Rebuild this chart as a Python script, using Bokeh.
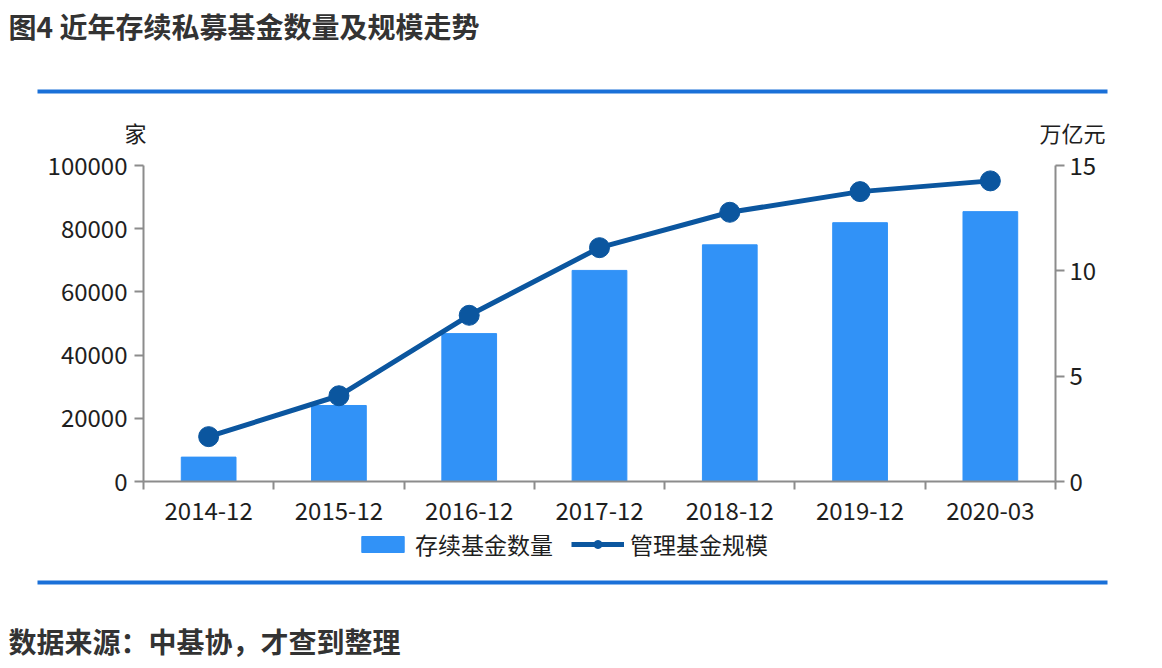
from bokeh.plotting import figure
from bokeh.layouts import column
from bokeh.models import (Range1d, LinearAxis, FixedTicker, NumeralTickFormatter,
                          Legend, LegendItem, Label, BoxAnnotation)
from bokeh.embed import file_html
from bokeh.resources import INLINE

categories = ["2014-12", "2015-12", "2016-12", "2017-12", "2018-12", "2019-12", "2020-03"]
fund_count = [7714, 24054, 46800, 66800, 74900, 81900, 85400]
fund_scale = [2.13, 4.07, 7.89, 11.10, 12.78, 13.76, 14.27]
left_ticks = [0, 20000, 40000, 60000, 80000, 100000]
right_ticks = [0, 5, 10, 15]
series_names = ["存续基金数量", "管理基金规模"]
title_text = "图4 近年存续私募基金数量及规模走势"
source_text = "数据来源：中基协，才查到整理"
left_unit = "家"
right_unit = "万亿元"

FONT = "Noto Sans CJK SC"
BAR_COLOR = "#3192f7"
LINE_COLOR = "#0b569f"
AXIS_COLOR = "#8c8c8c"
TEXT_COLOR = "#1e1e1e"
HEAD_COLOR = "#333333"
RULE_COLOR = "#1a70d8"
W = 1162
xs = [i + 0.5 for i in range(len(categories))]


def blank_fig(h):
    f = figure(width=W, height=h, output_backend="svg", toolbar_location=None,
               x_range=Range1d(0, len(categories)), y_range=Range1d(0, 100000),
               x_axis_type=None, y_axis_type=None, frame_align=False,
               min_border_left=0, min_border_right=0, min_border_top=0, min_border_bottom=0)
    f.outline_line_color = None
    f.xgrid.visible = False
    f.ygrid.visible = False
    return f


# ---------- header ----------
HEAD_H = 148
head = blank_fig(HEAD_H)
head.add_layout(Label(x=8, y=HEAD_H - 25, x_units="screen", y_units="screen", text=title_text,
                      text_font=FONT, text_font_size="28px", text_font_style="bold",
                      text_color=HEAD_COLOR, text_baseline="middle"))
head.add_layout(BoxAnnotation(left=37, right=1107, top=HEAD_H - 89, bottom=HEAD_H - 93,
                              left_units="screen", right_units="screen",
                              top_units="screen", bottom_units="screen",
                              fill_color=RULE_COLOR, fill_alpha=1, line_color=None))
head.add_layout(Label(x=135, y=HEAD_H - 131, x_units="screen", y_units="screen", text=left_unit,
                      text_font=FONT, text_font_size="22px", text_color=TEXT_COLOR,
                      text_baseline="middle", text_align="center"))
head.add_layout(Label(x=1072, y=HEAD_H - 131, x_units="screen", y_units="screen", text=right_unit,
                      text_font=FONT, text_font_size="22px", text_color=TEXT_COLOR,
                      text_baseline="middle", text_align="center"))

# ---------- main chart ----------
p = figure(frame_width=912, frame_height=316, output_backend="svg", toolbar_location=None,
           x_range=Range1d(0, len(categories)), y_range=Range1d(0, 100000), frame_align=False,
           min_border_left=143, min_border_right=107, min_border_top=17, min_border_bottom=46)
p.extra_y_ranges = {"y2": Range1d(0, 15)}
p.outline_line_color = None
p.xgrid.visible = False
p.ygrid.visible = False

bars = p.vbar(x=xs, top=fund_count, width=0.42, color=BAR_COLOR)
line = p.line(x=xs, y=fund_scale, y_range_name="y2", line_color=LINE_COLOR, line_width=5)
dots = p.scatter(x=xs, y=fund_scale, y_range_name="y2", size=20, color=LINE_COLOR)

xa = p.xaxis[0]
xa.ticker = FixedTicker(ticks=xs, minor_ticks=list(range(len(categories) + 1)))
xa.major_label_overrides = {x: c for x, c in zip(xs, categories)}
xa.major_tick_line_color = None
xa.minor_tick_line_color = AXIS_COLOR
xa.minor_tick_line_width = 2
xa.minor_tick_in = 0
xa.minor_tick_out = 8
xa.major_label_standoff = 12
xa.axis_line_color = AXIS_COLOR
xa.axis_line_width = 2
xa.major_label_text_font = FONT
xa.major_label_text_font_size = "24px"
xa.major_label_text_color = TEXT_COLOR

ya = p.yaxis[0]
ya.ticker = FixedTicker(ticks=left_ticks)
ya.formatter = NumeralTickFormatter(format="0")
ya.minor_tick_line_color = None
ya.major_tick_in = 0
ya.major_tick_out = 9
ya.major_tick_line_color = AXIS_COLOR
ya.major_tick_line_width = 2
ya.axis_line_color = AXIS_COLOR
ya.axis_line_width = 2
ya.major_label_standoff = 7
ya.major_label_text_font = FONT
ya.major_label_text_font_size = "24px"
ya.major_label_text_color = TEXT_COLOR

ra = LinearAxis(y_range_name="y2", ticker=FixedTicker(ticks=right_ticks))
ra.minor_tick_line_color = None
ra.major_tick_in = 0
ra.major_tick_out = 9
ra.major_tick_line_color = AXIS_COLOR
ra.major_tick_line_width = 2
ra.axis_line_color = AXIS_COLOR
ra.axis_line_width = 2
ra.major_label_standoff = 5
ra.major_label_text_font = FONT
ra.major_label_text_font_size = "24px"
ra.major_label_text_color = TEXT_COLOR
p.add_layout(ra, "right")

# ---------- footer with legend ----------
FOOT_H = 141
FOOT_TOP = 527
foot = blank_fig(FOOT_H)
foot.extra_y_ranges = {"y2": Range1d(0, 15)}
# legend proxies of the same series (hidden; only their legend swatches show)
lb = foot.vbar(x=xs, top=fund_count, width=0.42, color=BAR_COLOR, visible=False)
ll = foot.line(x=xs, y=fund_scale, y_range_name="y2", line_color=LINE_COLOR, line_width=5, visible=False)
ld = foot.scatter(x=xs, y=fund_scale, y_range_name="y2", size=20, color=LINE_COLOR, visible=False)
legend = Legend(items=[LegendItem(label=series_names[0], renderers=[lb]),
                       LegendItem(label=series_names[1], renderers=[ll, ld])],
                orientation="horizontal", location=(356, 107),
                glyph_width=53, glyph_height=20, label_standoff=6, spacing=18,
                padding=0, margin=0, border_line_color=None, background_fill_alpha=0,
                label_text_font=FONT, label_text_font_size="23px", label_text_color=TEXT_COLOR)
foot.add_layout(legend, "center")
foot.add_layout(BoxAnnotation(left=37, right=1107, top=FOOT_H - (580 - FOOT_TOP),
                              bottom=FOOT_H - (584 - FOOT_TOP),
                              left_units="screen", right_units="screen",
                              top_units="screen", bottom_units="screen",
                              fill_color=RULE_COLOR, fill_alpha=1, line_color=None))
foot.add_layout(Label(x=8, y=FOOT_H - (640 - FOOT_TOP), x_units="screen", y_units="screen",
                      text=source_text, text_font=FONT, text_font_size="28px",
                      text_font_style="bold", text_color=HEAD_COLOR, text_baseline="middle"))

layout = column(head, p, foot, spacing=0)
open("out.html", "w").write(file_html(layout, INLINE))
